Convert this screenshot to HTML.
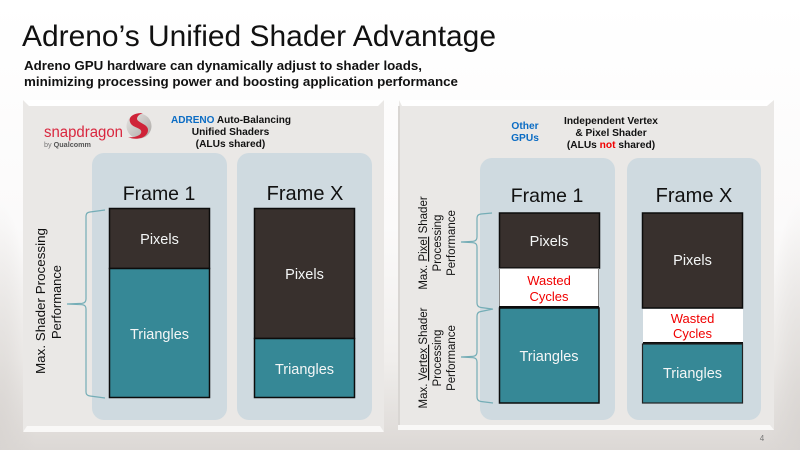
<!DOCTYPE html>
<html>
<head>
<meta charset="utf-8">
<style>
html,body{margin:0;padding:0;background:#fff;width:800px;height:450px;overflow:hidden}
svg{display:block}
text{font-family:"Liberation Sans",sans-serif}
</style>
</head>
<body>
<svg width="800" height="450" viewBox="0 0 800 450" xmlns="http://www.w3.org/2000/svg">
<defs>
<linearGradient id="bg" x1="0" y1="0" x2="0" y2="1">
<stop offset="0" stop-color="#ffffff"/><stop offset="0.5" stop-color="#fbfafa"/><stop offset="0.8" stop-color="#f0eeec"/><stop offset="1" stop-color="#dcd8d5"/>
</linearGradient>
<radialGradient id="lft" gradientUnits="userSpaceOnUse" cx="0" cy="440" r="240" gradientTransform="translate(0 440) scale(0.15 1) translate(0 -440)">
<stop offset="0" stop-color="#d8d4d1" stop-opacity="0.9"/><stop offset="1" stop-color="#d8d4d1" stop-opacity="0"/>
</radialGradient>
<radialGradient id="rgt" gradientUnits="userSpaceOnUse" cx="800" cy="440" r="240" gradientTransform="translate(800 440) scale(0.15 1) translate(-800 -440)">
<stop offset="0" stop-color="#d8d4d1" stop-opacity="0.9"/><stop offset="1" stop-color="#d8d4d1" stop-opacity="0"/>
</radialGradient>
<linearGradient id="sd" x1="0" y1="0" x2="1" y2="1">
<stop offset="0" stop-color="#e8e6e4"/><stop offset="1" stop-color="#aaa6a3"/>
</linearGradient>
</defs>
<rect width="800" height="450" fill="url(#bg)"/>
<rect x="0" y="150" width="60" height="300" fill="url(#lft)"/>
<rect x="740" y="150" width="60" height="300" fill="url(#rgt)"/>

<!-- panels -->
<rect x="23" y="100" width="361" height="331" fill="#eae8e6"/>
<polygon points="23,100 384,100 378,106 29,106" fill="#fff"/>
<polygon points="23,432 384,432 380,426 27,426" fill="#f9f8f7"/>
<rect x="399" y="100" width="375" height="330" fill="#eae8e6"/>
<polygon points="399,100 774,100 767,106 402,106" fill="#fff"/>
<polygon points="398,430 774,430 770,425 398,425" fill="#f9f8f7"/>
<rect x="398" y="106" width="2" height="319" fill="#d9d6d3"/>

<!-- frame backgrounds -->
<rect x="92" y="153" width="135" height="267" rx="12" fill="#cfdae0"/>
<rect x="237" y="153" width="135" height="267" rx="12" fill="#cfdae0"/>
<rect x="480" y="158" width="135" height="262" rx="12" fill="#cfdae0"/>
<rect x="627" y="158" width="134" height="262" rx="12" fill="#cfdae0"/>

<!-- title -->
<text x="22" y="46" font-size="29.5" fill="#111" textLength="474" lengthAdjust="spacingAndGlyphs">Adreno’s Unified Shader Advantage</text>
<text x="24" y="70" font-size="12.5" font-weight="bold" fill="#111" textLength="398" lengthAdjust="spacingAndGlyphs">Adreno GPU hardware can dynamically adjust to shader loads,</text>
<text x="24" y="86" font-size="12.5" font-weight="bold" fill="#111" textLength="434" lengthAdjust="spacingAndGlyphs">minimizing processing power and boosting application performance</text>

<!-- logo -->
<text x="44" y="137" font-size="15.5" fill="#d9273f" textLength="79" lengthAdjust="spacingAndGlyphs">snapdragon</text>
<circle cx="139" cy="126" r="12.5" fill="url(#sd)"/>
<path d="M143,113 C132,113 127,118 131,124 C134,128 143,128 141,133 C140,136 133,138 128,137 C136,141 148,138 148,130 C148,124 138,123 137,119 C137,116 140,114 143,113 Z" fill="#cf2338"/>
<text x="44" y="147" font-size="7" fill="#777" textLength="47" lengthAdjust="spacingAndGlyphs">by <tspan font-weight="bold" fill="#555">Qualcomm</tspan></text>

<!-- left heading -->
<text x="171" y="123" font-size="10.2" font-weight="bold" fill="#111" textLength="120" lengthAdjust="spacingAndGlyphs"><tspan fill="#0b6cc4">ADRENO</tspan> Auto-Balancing</text>
<text x="230.500" y="135" font-size="10.2" font-weight="bold" fill="#111" text-anchor="middle">Unified Shaders</text>
<text x="230.500" y="147" font-size="10.2" font-weight="bold" fill="#111" text-anchor="middle">(ALUs shared)</text>

<!-- right heading -->
<text x="525" y="129" font-size="10.2" font-weight="bold" fill="#0b6cc4" text-anchor="middle">Other</text>
<text x="525" y="141" font-size="10.2" font-weight="bold" fill="#0b6cc4" text-anchor="middle">GPUs</text>
<text x="611" y="124" font-size="10.2" font-weight="bold" fill="#111" text-anchor="middle">Independent Vertex</text>
<text x="611" y="136" font-size="10.2" font-weight="bold" fill="#111" text-anchor="middle">&amp; Pixel Shader</text>
<text x="611" y="148" font-size="10.2" font-weight="bold" fill="#111" text-anchor="middle">(ALUs <tspan fill="#f00000">not</tspan> shared)</text>

<!-- frame labels -->
<text x="159" y="200" font-size="19.5" fill="#111" text-anchor="middle">Frame 1</text>
<text x="305" y="200" font-size="20" fill="#111" text-anchor="middle">Frame X</text>
<text x="547" y="202" font-size="19.5" fill="#111" text-anchor="middle">Frame 1</text>
<text x="694" y="202" font-size="20" fill="#111" text-anchor="middle">Frame X</text>

<!-- left bars -->
<g stroke="#0c0c0c" stroke-width="1.5">
<rect x="109.500" y="208.500" width="100" height="60" fill="#38302d"/>
<rect x="109.500" y="268.500" width="100" height="129" fill="#368896"/>
<rect x="254.500" y="208.500" width="100" height="130" fill="#38302d"/>
<rect x="254.500" y="338.500" width="100" height="59" fill="#368896"/>
</g>

<!-- right bars -->
<rect x="499.500" y="213" width="100" height="55" fill="#38302d" stroke="#0c0c0c" stroke-width="1.5"/>
<rect x="499.500" y="268.500" width="99" height="38" fill="#fff" stroke="#888"/>
<rect x="499.500" y="308" width="99.500" height="95" fill="#368896" stroke="#0c0c0c" stroke-width="1.5"/>
<rect x="499" y="306" width="100" height="2" fill="#0c0c0c"/>
<rect x="642.500" y="213" width="100" height="95" fill="#38302d" stroke="#0c0c0c" stroke-width="1.5"/>
<rect x="643" y="309" width="100" height="33" fill="#fff"/>
<rect x="643" y="342" width="100" height="2" fill="#0c0c0c"/>
<rect x="642.500" y="344" width="100" height="59" fill="#368896" stroke="#222" stroke-width="1.2"/>

<!-- bar labels -->
<g fill="#f4f6f6" text-anchor="middle" font-size="14.5">
<text x="159.500" y="244">Pixels</text>
<text x="159.500" y="339">Triangles</text>
<text x="304.500" y="279">Pixels</text>
<text x="304.500" y="374">Triangles</text>
<text x="549" y="246">Pixels</text>
<text x="549" y="361">Triangles</text>
<text x="692.500" y="265">Pixels</text>
<text x="692.500" y="378">Triangles</text>
</g>
<g fill="#f00000" text-anchor="middle" font-size="13">
<text x="549" y="285">Wasted</text>
<text x="549" y="301">Cycles</text>
<text x="692.500" y="323">Wasted</text>
<text x="692.500" y="338">Cycles</text>
</g>

<!-- braces -->
<g fill="none" stroke="#74adb6" stroke-width="1.2">
<path d="M105,210 L90,212 Q86,212.500 86,216 V299 Q86,303 82,303.300 L67,304 L82,304.700 Q86,305 86,309 V392 Q86,395.500 90,396 L105,398"/>
<path d="M492,213 L481,214 Q477,214.500 477,218 V237 Q477,241 473,241.300 L461,242 L473,242.700 Q477,243 477,247 V303 Q477,307 481,307.500 L492,309"/>
<path d="M493,309 L481,311.500 Q477,312 477,316 V352 Q477,356 473,356.300 L461,357 L473,357.700 Q477,358 477,362 V397 Q477,401 481,401.500 L493,403"/>
</g>

<!-- rotated labels -->
<g fill="#111" text-anchor="middle" font-size="12.5">
<text transform="translate(45,301) rotate(-90)" textLength="146" lengthAdjust="spacingAndGlyphs">Max.  Shader Processing</text>
<text transform="translate(61,302) rotate(-90)" textLength="74" lengthAdjust="spacingAndGlyphs">Performance</text>
</g>
<g fill="#111" text-anchor="middle" font-size="11.5">
<text transform="translate(427,243) rotate(-90)">Max. <tspan text-decoration="underline">Pixel</tspan> Shader</text>
<text transform="translate(441,243) rotate(-90)">Processing</text>
<text transform="translate(455,243) rotate(-90)">Performance</text>
<text transform="translate(427,358) rotate(-90)">Max. <tspan text-decoration="underline">Vertex </tspan>Shader</text>
<text transform="translate(441,358) rotate(-90)">Processing</text>
<text transform="translate(455,358) rotate(-90)">Performance</text>
</g>

<text x="762" y="441" font-size="8" fill="#777" text-anchor="middle">4</text>
</svg>
</body>
</html>
